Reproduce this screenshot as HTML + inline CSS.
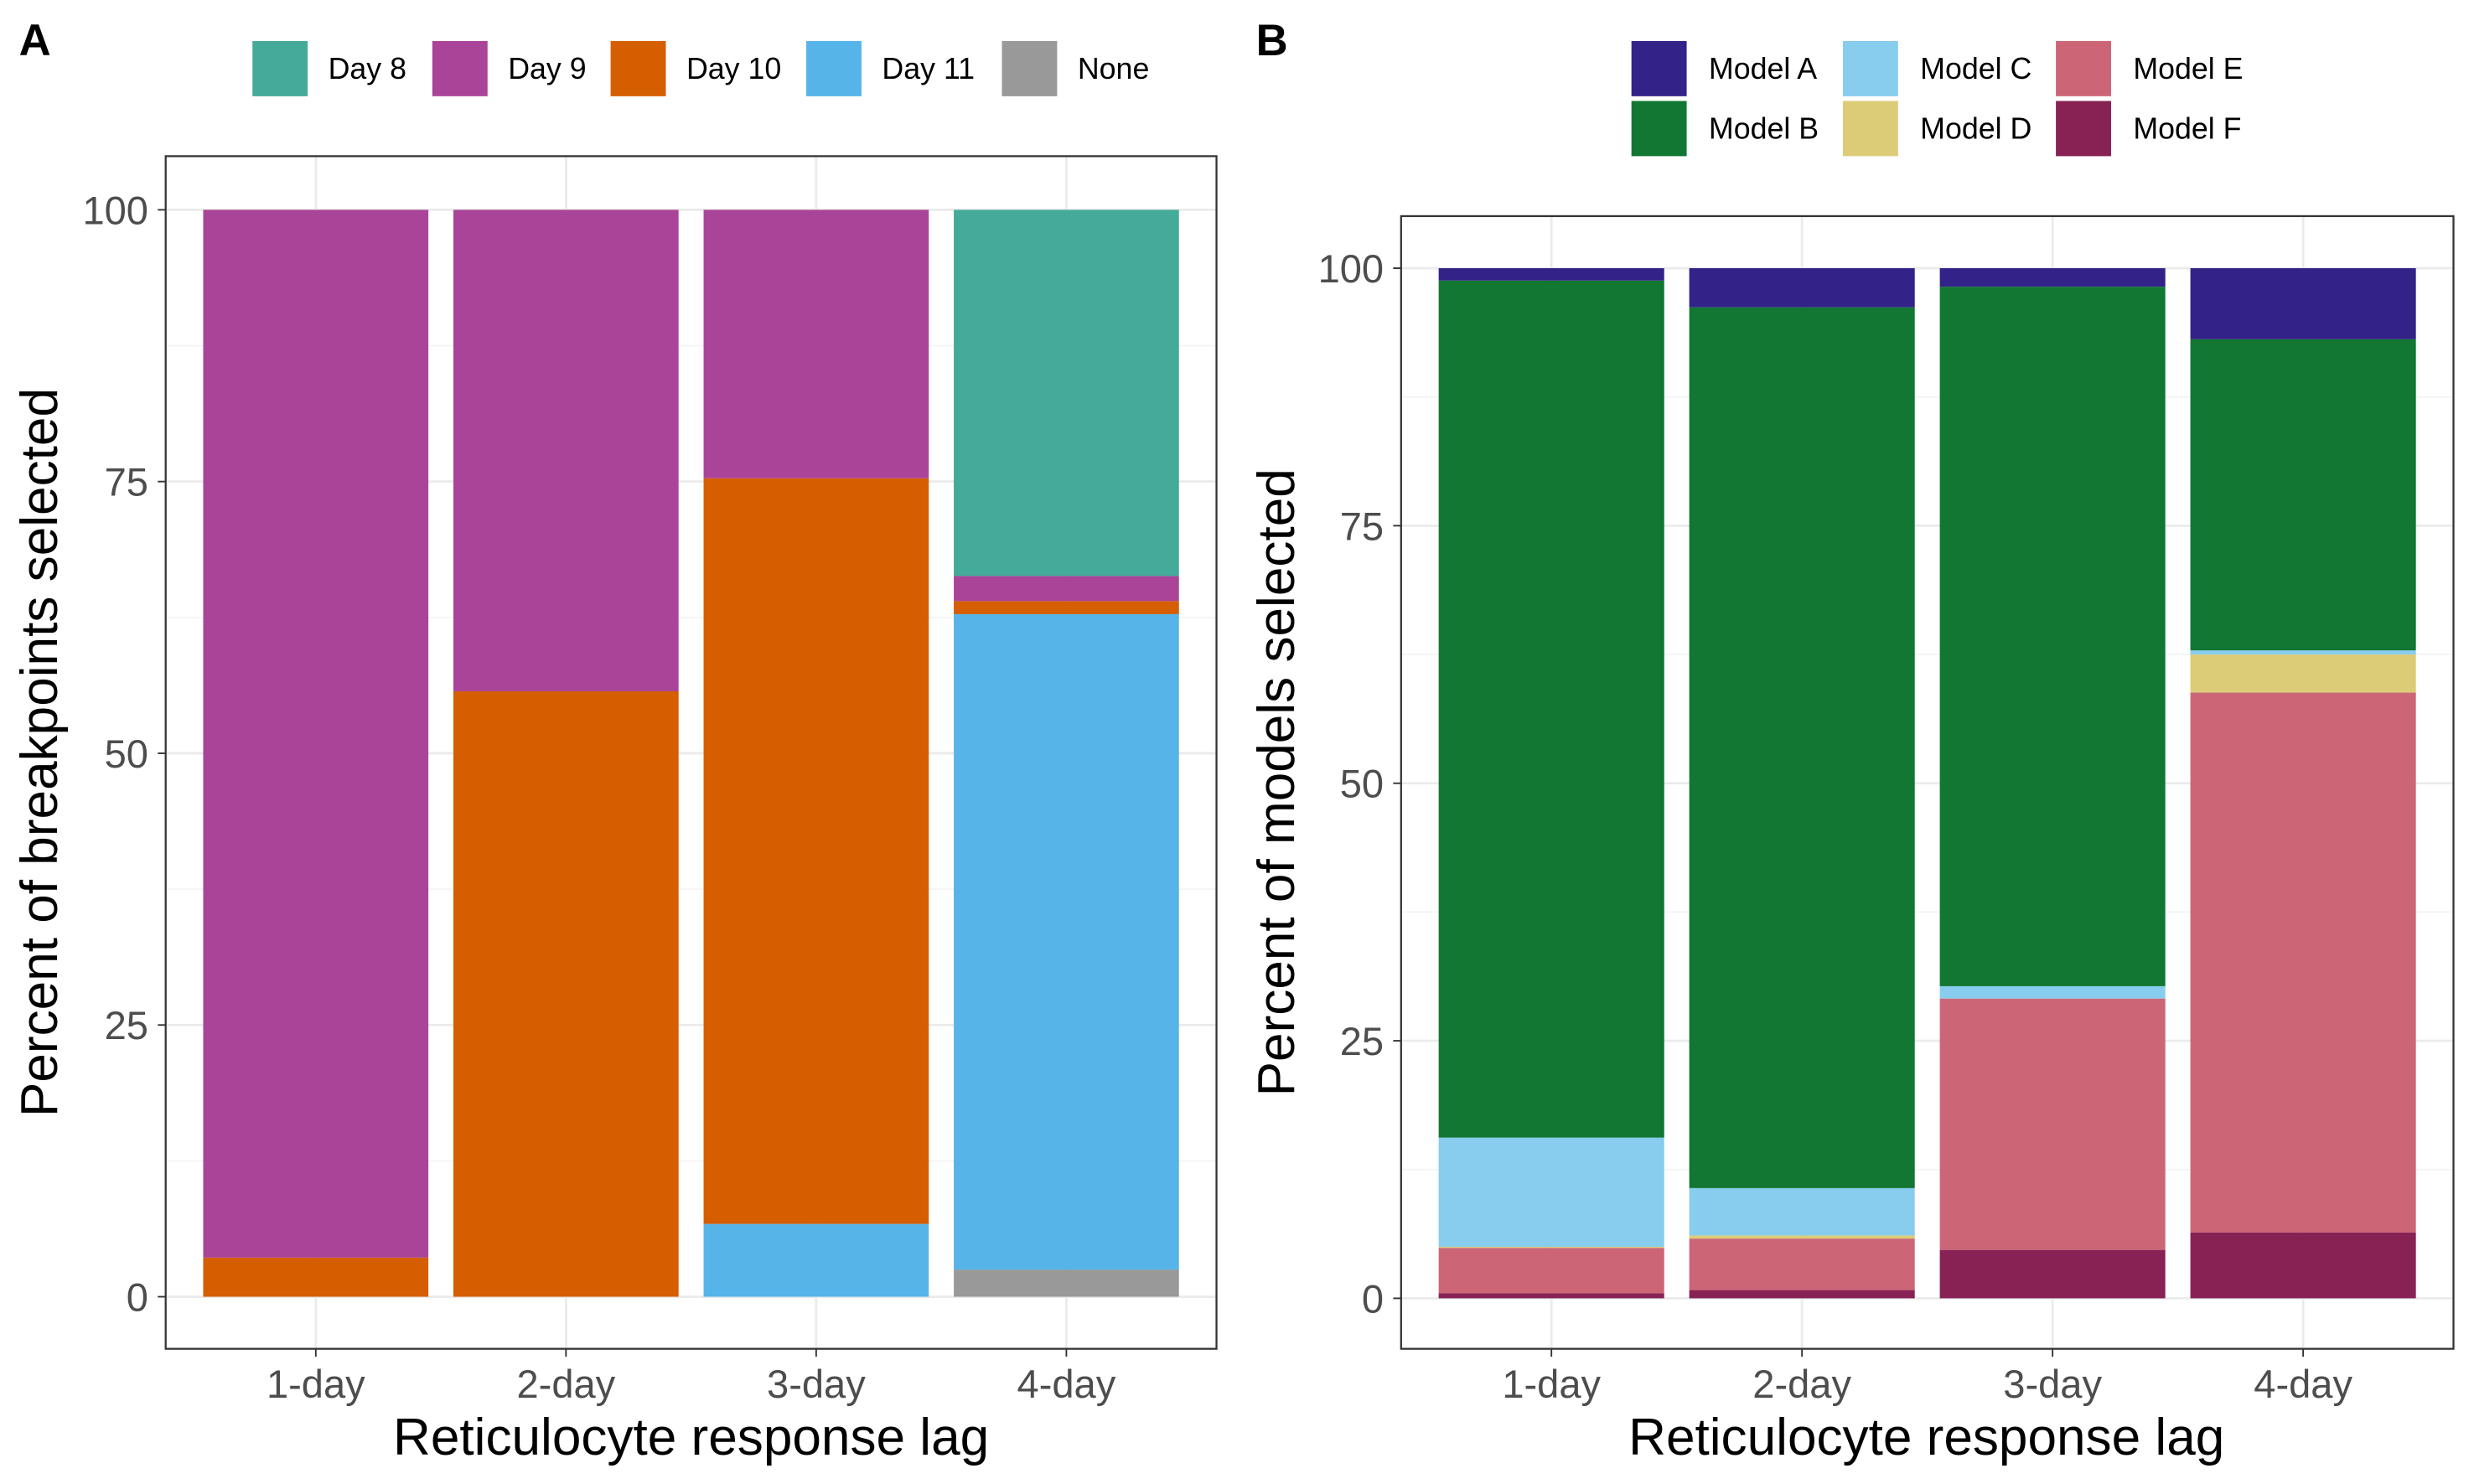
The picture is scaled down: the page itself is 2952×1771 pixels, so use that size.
<!DOCTYPE html>
<html><head><meta charset="utf-8"><style>
html,body{margin:0;padding:0;background:#fff;}
svg{display:block;font-family:"Liberation Sans",Arial,sans-serif;}
</style></head><body>
<svg id="chart" width="2952" height="1771" viewBox="0 0 1568 940.7" xmlns="http://www.w3.org/2000/svg">
<rect width="1568" height="940.7" fill="#fff"/>
<g id="pa"></g>
<g id="pb"></g>
</svg>
<script>
const categories = ["1-day","2-day","3-day","4-day"];
const yTicks = [0,25,50,75,100];
// Panel A: stacked bottom->top
const seriesA = ["None","Day 11","Day 10","Day 9","Day 8"];
const aNone  = [0,0,0,2.5];
const aDay11 = [0,0,6.7,60.3];
const aDay10 = [3.6,55.7,68.6,1.2];
const aDay9  = [96.4,44.3,24.7,2.3];
const aDay8  = [0,0,0,33.7];
const colorsA = ["#999999","#56B4E9","#D55E00","#AA4499","#44AA99"];
// Panel B: stacked bottom->top
const seriesB = ["Model F","Model E","Model D","Model C","Model B","Model A"];
const bF = [0.5,0.8,4.7,6.4];
const bE = [4.4,5.0,24.4,52.4];
const bD = [0.1,0.3,0,3.7];
const bC = [10.6,4.6,1.2,0.4];
const bB = [83.2,85.5,67.9,30.2];
const bA = [1.2,3.8,1.8,6.9];
const colorsB = ["#882255","#CC6677","#DDCC77","#88CCEE","#117733","#332288"];

const NS="http://www.w3.org/2000/svg";
function mk(parent,tag,attrs,text){const e=document.createElementNS(NS,tag);for(const k in attrs)e.setAttribute(k,attrs[k]);if(text!==undefined)e.textContent=text;parent.appendChild(e);return e;}

function panel(g,cfg,stacks,colors,names,prefix){
  const {x0,x1,yTop,yBot,y100,y0}=cfg;
  const yS=v=>y0-(y0-y100)*v/100;
  const n=categories.length, step=(x1-x0)/(n+0.2);
  const xC=i=>x0+step*(i+0.6), bw=step*0.9;
  mk(g,'rect',{x:x0,y:yTop,width:x1-x0,height:yBot-yTop,fill:'#fff'});
  for(let v=12.5;v<100;v+=25){const l=mk(g,'line',{x1:x0,x2:x1,y1:yS(v),y2:yS(v),stroke:'#f2f2f2','stroke-width':0.8});
    }
  yTicks.forEach(v=>{const l=mk(g,'line',{x1:x0,x2:x1,y1:yS(v),y2:yS(v),stroke:'#ebebeb','stroke-width':1.5});
    
    const t=mk(g,'text',{x:x0-11,y:yS(v)+9,'text-anchor':'end','font-size':25,fill:'#4d4d4d'},v);
    
    mk(g,'line',{x1:x0-5,x2:x0,y1:yS(v),y2:yS(v),stroke:'#333','stroke-width':1});});
  categories.forEach((c,i)=>{const l=mk(g,'line',{x1:xC(i),x2:xC(i),y1:yTop,y2:yBot,stroke:'#ebebeb','stroke-width':1.5});
    });
  categories.forEach((c,i)=>{let acc=0;
    stacks.forEach((arr,s)=>{const v=arr[i];if(v>0){
      const r=mk(g,'rect',{x:xC(i)-bw/2,y:yS(acc+v),width:bw,height:yS(acc)-yS(acc+v),fill:colors[s]});
      
      }
      acc+=v;});
    mk(g,'line',{x1:xC(i),x2:xC(i),y1:yBot,y2:yBot+5,stroke:'#333'});
    const t=mk(g,'text',{x:xC(i),y:yBot+31,'text-anchor':'middle','font-size':25,fill:'#4d4d4d'},c);
    });
  mk(g,'rect',{x:x0,y:yTop,width:x1-x0,height:yBot-yTop,fill:'none',stroke:'#333','stroke-width':1.2});
}

const pa=document.getElementById('pa'), pb=document.getElementById('pb');
panel(pa,{x0:105,x1:771,yTop:99,yBot:855,y100:133,y0:822},[aNone,aDay11,aDay10,aDay9,aDay8],colorsA,seriesA,'a');
panel(pb,{x0:888,x1:1555,yTop:137,yBot:855,y100:170,y0:823},[bF,bE,bD,bC,bB,bA],colorsB,seriesB,'b');

let t;
t=mk(pa,'text',{x:438,y:922,'text-anchor':'middle','font-size':33,fill:'#000'},'Reticulocyte response lag');

t=mk(pb,'text',{x:1221,y:922,'text-anchor':'middle','font-size':33,fill:'#000'},'Reticulocyte response lag');

t=mk(pa,'text',{x:0,y:0,'text-anchor':'middle','font-size':33,fill:'#000',transform:'translate(36,477) rotate(-90)'},'Percent of breakpoints selected');

t=mk(pb,'text',{x:0,y:0,'text-anchor':'middle','font-size':33,fill:'#000',transform:'translate(820,496) rotate(-90)'},'Percent of models selected');

t=mk(pa,'text',{x:12,y:35,'font-size':28,'font-weight':'bold',fill:'#000'},'A');

t=mk(pb,'text',{x:796,y:35,'font-size':28,'font-weight':'bold',fill:'#000'},'B');


// Legend A
const legA=[["Day 8","#44AA99",160],["Day 9","#AA4499",274],["Day 10","#D55E00",387],["Day 11","#56B4E9",511],["None","#999999",635]];
legA.forEach(([lab,col,x])=>{
  const r=mk(pa,'rect',{x:x,y:26,width:35,height:35,fill:col});
  
  const tt=mk(pa,'text',{x:x+48,y:50,'font-size':19,fill:'#000'},lab);
  
});
// Legend B
const legB=[["Model A","#332288",1034,26],["Model B","#117733",1034,64],["Model C","#88CCEE",1168,26],["Model D","#DDCC77",1168,64],["Model E","#CC6677",1303,26],["Model F","#882255",1303,64]];
legB.forEach(([lab,col,x,y])=>{
  const r=mk(pb,'rect',{x:x,y:y,width:35,height:35,fill:col});
  
  const tt=mk(pb,'text',{x:x+49,y:y+24,'font-size':19,fill:'#000'},lab);
  
});
</script>
</body></html>
